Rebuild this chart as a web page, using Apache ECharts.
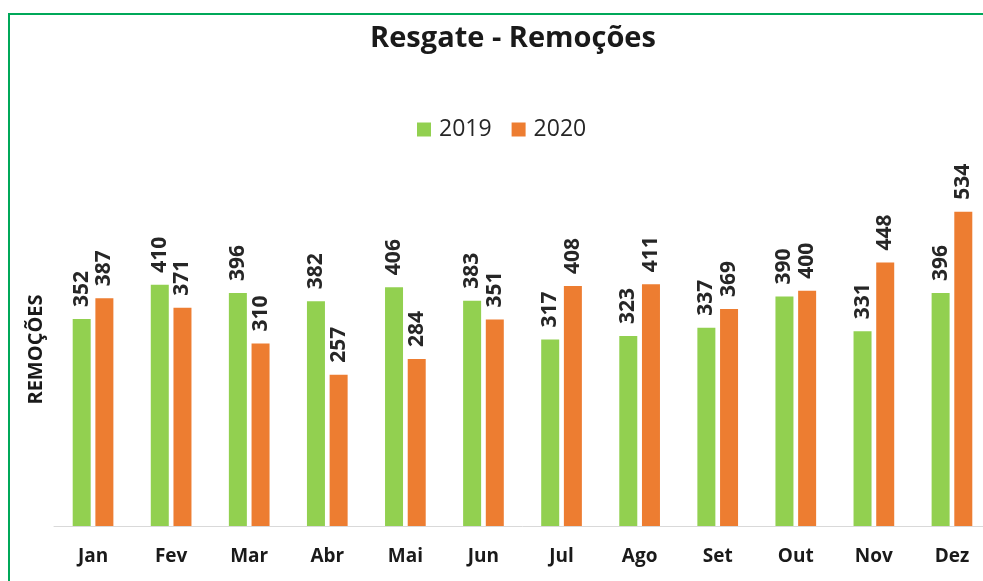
<!DOCTYPE html>
<html>
<head>
<meta charset="utf-8">
<script src="https://cdn.jsdelivr.net/npm/echarts@6/dist/echarts.min.js"></script>
<style>
  html, body {margin: 0; padding: 0; background: #fff; overflow: hidden;}
  #main {width: 1000px; height: 581px;}
  .frame {position: absolute; left: 8px; top: 13px; width: 990px; height: 600px;
          border-left: 2px solid #00A859; border-top: 2px solid #00A859; pointer-events: none;}
</style>
</head>
<body>
<div id="main"></div>
<div class="frame"></div>
<script>
    const months = ['Jan', 'Fev', 'Mar', 'Abr', 'Mai', 'Jun', 'Jul', 'Ago', 'Set', 'Out', 'Nov', 'Dez'];
    const values2019 = [352, 410, 396, 382, 406, 383, 317, 323, 337, 390, 331, 396];
    const values2020 = [387, 371, 310, 257, 284, 351, 408, 411, 369, 400, 448, 534];
    const colors = ['#92D050', '#ED7D31'];
    const font = '"Open Sans", sans-serif';

    const barLabel = {
        show: true,
        position: 'top',
        rotate: 90,
        align: 'left',
        verticalAlign: 'middle',
        distance: 12,
        color: '#262626',
        fontWeight: 'bold',
        fontSize: 21,
        fontFamily: font
    };

    const myChart = echarts.init(document.getElementById('main'));
    myChart.setOption({
        animation: false,
        color: colors,
        title: {
            text: 'Resgate - Remoções',
            left: 508,
            textAlign: 'center',
            top: 19,
            textStyle: {fontSize: 29, fontWeight: 'bold', color: '#1a1a1a', fontFamily: font}
        },
        legend: {
            data: ['2019', '2020'],
            left: 412,
            top: 113,
            itemWidth: 14,
            itemHeight: 14,
            itemGap: 20,
            icon: 'rect',
            textStyle: {fontSize: 23, color: '#262626', fontFamily: font, padding: [0, 0, 0, 3]}
        },
        grid: {left: 54, width: 937, top: 173, bottom: 55},
        xAxis: {
            type: 'category',
            data: months,
            axisLine: {lineStyle: {color: '#d9d9d9', width: 1}},
            axisTick: {show: false},
            axisLabel: {
                margin: 21, color: '#1a1a1a', fontWeight: 'bold', fontSize: 19, fontFamily: font
            }
        },
        yAxis: {
            type: 'value',
            min: 0,
            max: 600,
            name: 'REMOÇÕES',
            nameLocation: 'middle',
            nameRotate: 90,
            nameGap: 8,
            nameTextStyle: {fontSize: 20, fontWeight: 'bold', color: '#1a1a1a', fontFamily: font},
            axisLine: {show: false},
            axisTick: {show: false},
            axisLabel: {show: false},
            splitLine: {show: false}
        },
        series: [
            {name: '2019', type: 'bar', data: values2019, barWidth: 18, barGap: '26%', label: barLabel},
            {name: '2020', type: 'bar', data: values2020, barWidth: 18, barGap: '26%', label: barLabel}
        ]
    });
</script>
</body>
</html>
